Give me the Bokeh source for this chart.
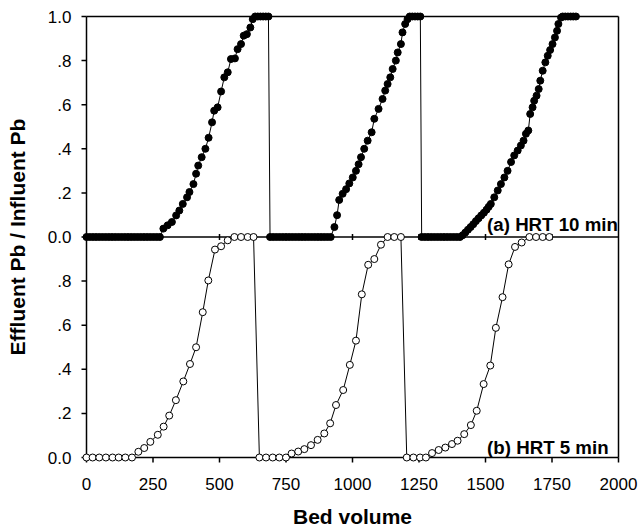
from bokeh.plotting import figure
from bokeh.models import Range1d, FixedTicker, Label
from bokeh.embed import file_html
from bokeh.resources import INLINE

# ---------------- data ----------------
# (a) HRT 10 min  (filled circles)
a_x = [0, 12, 24, 36, 48, 60, 72, 84, 96, 108, 120, 132, 144, 156, 168, 180, 192, 204,
       216, 228, 240, 252, 264, 276,
       289, 305, 321, 337, 349, 362, 378, 387, 402, 412, 420, 433, 447, 459, 472, 480,
       493, 506, 518, 531, 543, 558, 568, 581, 591, 603, 616, 625,
       634, 644, 654, 664, 674, 684,
       690, 702, 714, 726, 738, 750, 762, 774, 786, 798, 810, 822, 834, 846, 858, 870,
       882, 894, 906, 918,
       932, 942, 950, 963, 976, 988, 1001, 1013, 1023, 1032, 1044, 1057, 1072, 1082,
       1098, 1113, 1123, 1132, 1142, 1151, 1163, 1170, 1182, 1188, 1198, 1207,
       1215, 1225, 1235, 1245, 1255,
       1260, 1272, 1284, 1296, 1308, 1320, 1332, 1344, 1356, 1368, 1380, 1392, 1404,
       1414, 1424, 1434, 1444, 1454, 1464, 1474, 1484, 1494, 1504, 1512, 1520,
       1533, 1546, 1558, 1571, 1583, 1596, 1608, 1621, 1633, 1643, 1652, 1661, 1668,
       1677, 1683, 1692, 1700, 1706, 1715, 1725, 1734, 1743, 1752, 1761, 1769, 1774, 1784,
       1790, 1800, 1810, 1820, 1830, 1840]
a_y = [0, 0, 0, 0, 0, 0, 0, 0, 0, 0, 0, 0, 0, 0, 0, 0, 0, 0,
       0, 0, 0, 0, 0, 0,
       0.038, 0.053, 0.068, 0.098, 0.12, 0.15, 0.18, 0.204, 0.24, 0.287, 0.324, 0.362,
       0.40, 0.45, 0.52, 0.573,
       0.588, 0.66, 0.724, 0.747, 0.807, 0.81, 0.852, 0.875, 0.913, 0.92, 0.95, 0.988,
       1.0, 1.0, 1.0, 1.0, 1.0, 1.0,
       0, 0, 0, 0, 0, 0, 0, 0, 0, 0, 0, 0, 0, 0, 0, 0,
       0, 0, 0, 0,
       0.045, 0.099, 0.168, 0.196, 0.217, 0.243, 0.27, 0.30, 0.33, 0.362, 0.40, 0.437,
       0.475, 0.536,
       0.581, 0.626, 0.664, 0.694, 0.724, 0.762, 0.80, 0.837, 0.875, 0.928, 0.966, 0.988,
       1.0, 1.0, 1.0, 1.0, 1.0,
       0, 0, 0, 0, 0, 0, 0, 0, 0, 0, 0, 0, 0,
       0.008, 0.02, 0.033, 0.045, 0.058, 0.072, 0.085, 0.098, 0.11, 0.124, 0.137, 0.15,
       0.18, 0.211, 0.24, 0.27, 0.30, 0.34, 0.37, 0.392, 0.415, 0.437, 0.468, 0.483, 0.558,
       0.588, 0.618, 0.641, 0.671, 0.709, 0.754, 0.792, 0.822, 0.848, 0.875, 0.905, 0.935,
       0.966, 0.995,
       1.0, 1.0, 1.0, 1.0, 1.0, 1.0]

# (b) HRT 5 min  (open circles)
b_x = [0, 23, 48, 73, 98, 121, 146, 171,
       195, 217, 240, 268, 290, 311, 336, 364, 389, 412, 437, 458, 483, 506, 531,
       556, 581, 606, 628,
       650, 675, 700, 725, 750,
       771, 796, 819, 844, 869, 894, 916, 938, 965, 990, 1013, 1035, 1059, 1082, 1107,
       1132, 1157, 1182,
       1204, 1229, 1254, 1276,
       1299, 1324, 1349, 1374, 1395, 1420, 1445, 1467, 1493, 1518, 1539, 1564, 1587,
       1611, 1636,
       1665, 1690, 1715, 1740]
b_y = [0, 0, 0, 0, 0, 0, 0, 0,
       0.026, 0.043, 0.071, 0.103, 0.14, 0.19, 0.26, 0.345, 0.424, 0.50, 0.659, 0.803,
       0.943, 0.958, 0.985,
       1.0, 1.0, 1.0, 1.0,
       0, 0, 0, 0, 0,
       0.018, 0.027, 0.038, 0.056, 0.08, 0.109, 0.155, 0.238, 0.306, 0.42, 0.53, 0.74,
       0.874, 0.90, 0.965,
       1.0, 1.0, 1.0,
       0, 0, 0, 0,
       0.02, 0.034, 0.045, 0.061, 0.076, 0.106, 0.147, 0.212, 0.333, 0.417, 0.588, 0.727,
       0.876, 0.955, 0.975,
       1.0, 1.0, 1.0, 1.0]

x_ticks = [0, 250, 500, 750, 1000, 1250, 1500, 1750, 2000]
x_labels = ["0", "250", "500", "750", "1000", "1250", "1500", "1750", "2000"]
y_ticks_bottom = [0, 0.2, 0.4, 0.6, 0.8]
y_labels_bottom = ["0.0", ".2", ".4", ".6", ".8"]
y_ticks_top = [0, 0.2, 0.4, 0.6, 0.8, 1.0]
y_labels_top = ["0.0", ".2", ".4", ".6", ".8", "1.0"]

FONT = "Liberation Sans"
X_MIN, X_MAX = 0, 2000
Y_MIN, Y_MAX = 0, 2          # bottom panel 0..1, top panel 1..2 (extra range -1..1)

# ---------------- geometry (style) ----------------
AX_W, AX_H = 532, 441        # pixel size of the drawn axes box
PAD = 6                      # px of frame padding so markers on the edges are not clipped
UX = (X_MAX - X_MIN) / AX_W  # data units per px
UY = (Y_MAX - Y_MIN) / AX_H
TICK = 5                     # outward tick length, px
MID = 3                      # half length of the crossing ticks on the divider, px

p = figure(frame_width=AX_W + 2 * PAD, frame_height=AX_H + 2 * PAD,
           min_border_left=80, min_border_right=14, min_border_top=10, min_border_bottom=65,
           x_range=Range1d(X_MIN - PAD * UX, X_MAX + PAD * UX),
           y_range=Range1d(Y_MIN - PAD * UY, Y_MAX + PAD * UY),
           output_backend="svg", toolbar_location=None)
p.extra_y_ranges = {"top": Range1d(-1 - PAD * UY, 1 + PAD * UY)}

p.xgrid.visible = False
p.ygrid.visible = False
p.outline_line_color = None
p.background_fill_color = "white"
p.border_fill_color = "white"

# y tick labels: bottom panel in default range, top panel shifted by one unit
top_positions = [round(v + 1, 1) for v in y_ticks_top]
y_all = [float(t) for t in y_ticks_bottom] + [float(t) for t in top_positions]
overrides = {}
for t, l in zip(y_ticks_bottom, y_labels_bottom):
    overrides[float(t)] = l
for t, l in zip(top_positions, y_labels_top):
    overrides[float(t)] = l
p.yaxis.ticker = FixedTicker(ticks=y_all)
p.yaxis.major_label_overrides = overrides
p.yaxis.major_label_standoff = 9
p.yaxis.axis_label = "Effluent Pb / Influent Pb"
p.yaxis.axis_label_standoff = 16

p.xaxis.ticker = FixedTicker(ticks=x_ticks)
p.xaxis.major_label_overrides = {t: l for t, l in zip(x_ticks, x_labels)}
p.xaxis.major_label_standoff = 14
p.xaxis.axis_label = "Bed volume"
p.xaxis.axis_label_standoff = 12

for ax in (p.xaxis, p.yaxis):
    ax.axis_line_color = None
    ax.major_tick_line_color = None
    ax.minor_tick_line_color = None
    ax.major_tick_out = 0
    ax.major_tick_in = 0
    ax.major_label_text_font = FONT
    ax.major_label_text_font_size = "17px"
    ax.major_label_text_color = "black"
    ax.axis_label_text_font = FONT
    ax.axis_label_text_font_size = "21px"
    ax.axis_label_text_font_style = "bold"
    ax.axis_label_text_color = "black"

# axes box: left, bottom, top, right edges and the panel divider
p.segment(x0=[X_MIN, X_MIN, X_MIN, X_MAX, X_MIN],
          y0=[Y_MIN, Y_MIN, Y_MAX, Y_MIN, 1],
          x1=[X_MIN, X_MAX, X_MAX, X_MAX, X_MAX],
          y1=[Y_MAX, Y_MIN, Y_MAX, Y_MAX, 1],
          line_color="black", line_width=1.5)
# outward ticks on the left and bottom edges
p.segment(x0=[X_MIN - TICK * UX] * len(y_all), y0=y_all, x1=[X_MIN] * len(y_all), y1=y_all,
          line_color="black", line_width=1.5)
p.segment(x0=x_ticks, y0=[Y_MIN - TICK * UY] * len(x_ticks), x1=x_ticks,
          y1=[Y_MIN] * len(x_ticks), line_color="black", line_width=1.5)
# crossing ticks on the divider
mid_ticks = x_ticks[1:-1]
p.segment(x0=mid_ticks, y0=[1 - MID * UY] * len(mid_ticks),
          x1=mid_ticks, y1=[1 + MID * UY] * len(mid_ticks),
          line_color="black", line_width=1.5)

# series
p.line(b_x, b_y, line_color="black", line_width=1)
p.scatter(b_x, b_y, size=7, fill_color="white", line_color="black", line_width=1)

p.line(a_x, a_y, y_range_name="top", line_color="black", line_width=1)
p.scatter(a_x, a_y, y_range_name="top", size=7, fill_color="black", line_color="black")

# panel labels
p.add_layout(Label(x=1506, y=0.057, y_range_name="top", text="(a) HRT 10 min",
                   text_font=FONT, text_font_style="bold", text_font_size="18.7px",
                   text_baseline="alphabetic", text_color="black"))
p.add_layout(Label(x=1506, y=0.045, text="(b) HRT 5 min",
                   text_font=FONT, text_font_style="bold", text_font_size="18.7px",
                   text_baseline="alphabetic", text_color="black"))

open("out.html", "w").write(file_html(p, INLINE))
